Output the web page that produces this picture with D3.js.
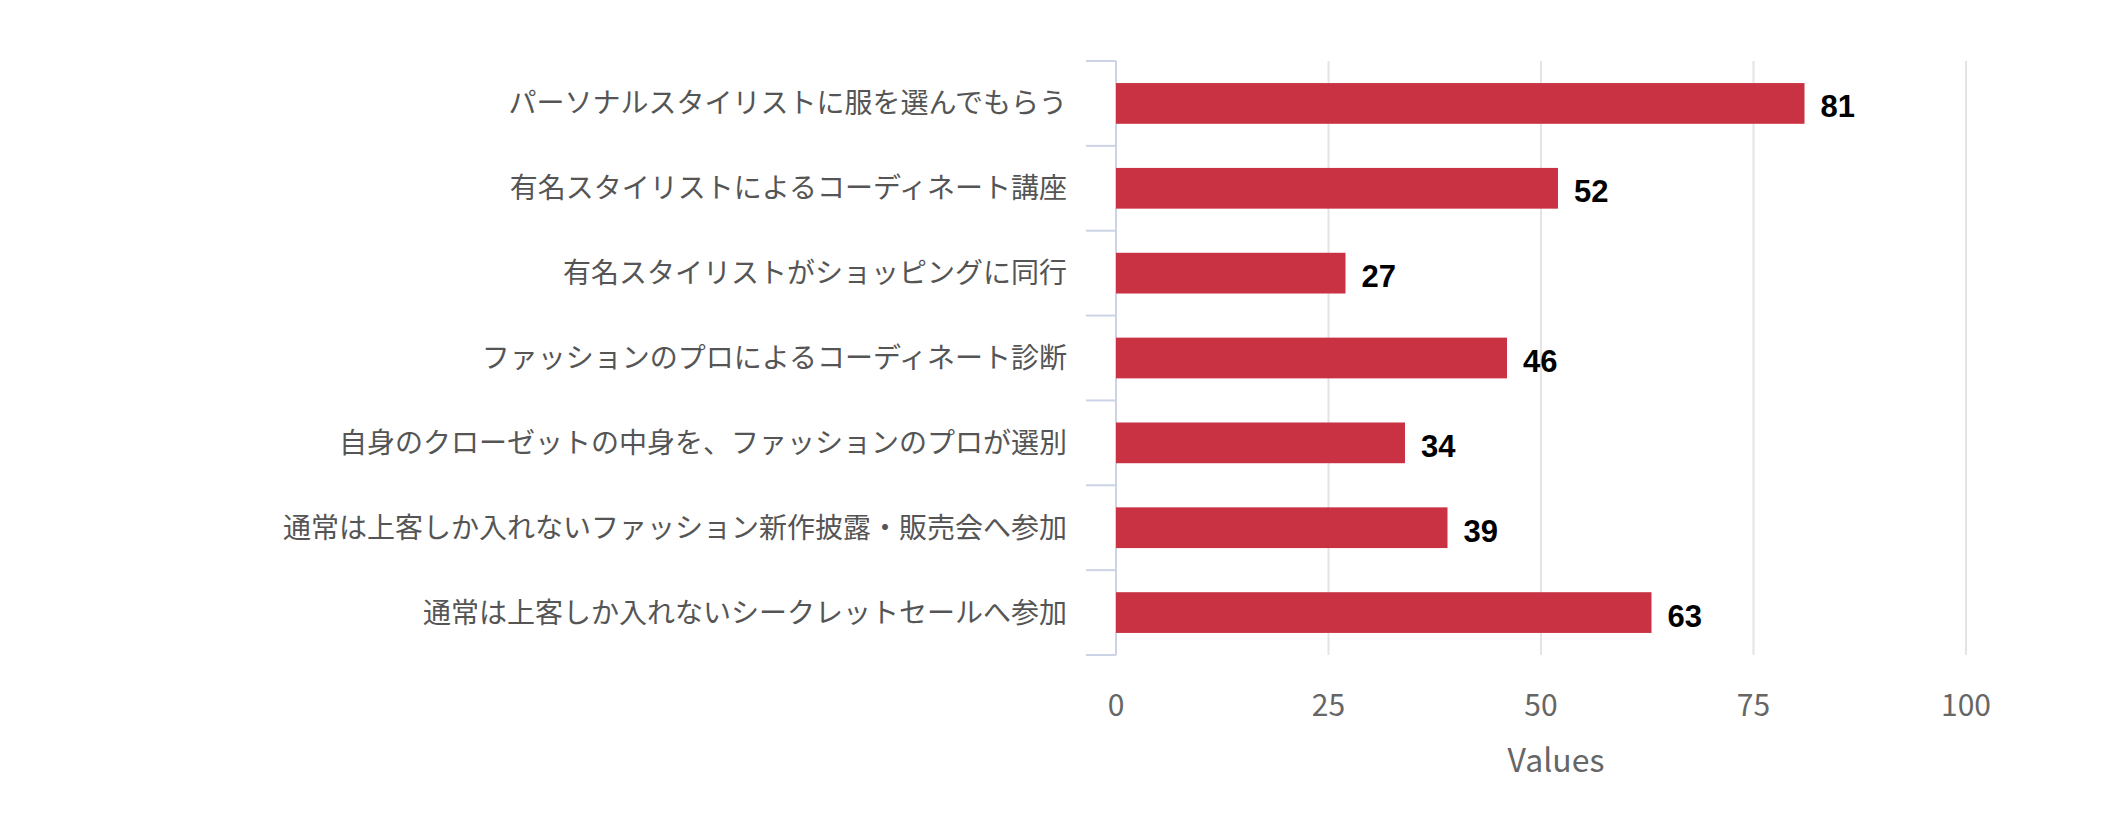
<!DOCTYPE html>
<html><head><meta charset="utf-8">
<script src="https://cdn.jsdelivr.net/npm/d3@7"></script>
<style>body{margin:0;background:#fff;}</style>
</head><body>
<script>
// chart data
var categories = [
  "パーソナルスタイリストに服を選んでもらう",
  "有名スタイリストによるコーディネート講座",
  "有名スタイリストがショッピングに同行",
  "ファッションのプロによるコーディネート診断",
  "自身のクローゼットの中身を、ファッションのプロが選別",
  "通常は上客しか入れないファッション新作披露・販売会へ参加",
  "通常は上客しか入れないシークレットセールへ参加"
];
var values = [81, 52, 27, 46, 34, 39, 63];
var xTicks = [0, 25, 50, 75, 100];

var W = 2108, H = 836;
var plotLeft = 1116, plotRight = 1966, plotTop = 61, plotBottom = 655;
var font = "'Noto Sans CJK JP', 'Noto Sans', sans-serif";

var svg = d3.select("body").append("svg")
    .attr("width", W).attr("height", H);

var x = d3.scaleLinear().domain([0, 100]).range([plotLeft, plotRight]);
var y = d3.scaleBand().domain(categories).range([plotTop, plotBottom]).paddingInner(0.52).paddingOuter(0.26);

// gridlines
svg.selectAll("line.grid").data(xTicks.slice(1)).enter().append("line")
    .attr("x1", d => x(d)).attr("x2", d => x(d))
    .attr("y1", plotTop).attr("y2", plotBottom)
    .attr("stroke", "#e3e3e8").attr("stroke-width", 2);

// y axis line and outer ticks
svg.append("line").attr("x1", plotLeft).attr("x2", plotLeft).attr("y1", plotTop).attr("y2", plotBottom)
    .attr("stroke", "#ccd3e6").attr("stroke-width", 2);
var step = (plotBottom - plotTop) / categories.length;
svg.selectAll("line.ytick").data(d3.range(categories.length + 1)).enter().append("line")
    .attr("x1", plotLeft - 30).attr("x2", plotLeft)
    .attr("y1", i => plotTop + i * step).attr("y2", i => plotTop + i * step)
    .attr("stroke", "#ccd3e6").attr("stroke-width", 2);

// bars
svg.selectAll("rect.bar").data(values).enter().append("rect")
    .attr("x", x(0)).attr("y", (d, i) => y(categories[i]))
    .attr("width", d => x(d) - x(0)).attr("height", y.bandwidth())
    .attr("fill", "#c83243");

// value labels
svg.selectAll("text.val").data(values).enter().append("text")
    .attr("x", d => x(d) + 16).attr("y", (d, i) => y(categories[i]) + y.bandwidth() / 2 + 14)
    .attr("font-family", "'Liberation Sans', Arial, sans-serif").attr("font-weight", "bold")
    .attr("font-size", 31).attr("fill", "#000").text(d => d);

// category labels
svg.selectAll("text.cat").data(categories).enter().append("text")
    .attr("x", 1067).attr("y", d => y(d) + y.bandwidth() / 2 + 10)
    .attr("text-anchor", "end").attr("font-family", font)
    .attr("font-size", 28).attr("fill", "#555").text(d => d);

// x tick labels
svg.selectAll("text.xt").data(xTicks).enter().append("text")
    .attr("x", d => x(d)).attr("y", 716)
    .attr("text-anchor", "middle").attr("font-family", font)
    .attr("font-size", 30).attr("fill", "#666").text(d => d);

svg.append("text").attr("x", (plotLeft + plotRight) / 2 + 15).attr("y", 772)
    .attr("text-anchor", "middle").attr("font-family", font)
    .attr("font-size", 32).attr("fill", "#666").text("Values");
</script>
</body></html>
